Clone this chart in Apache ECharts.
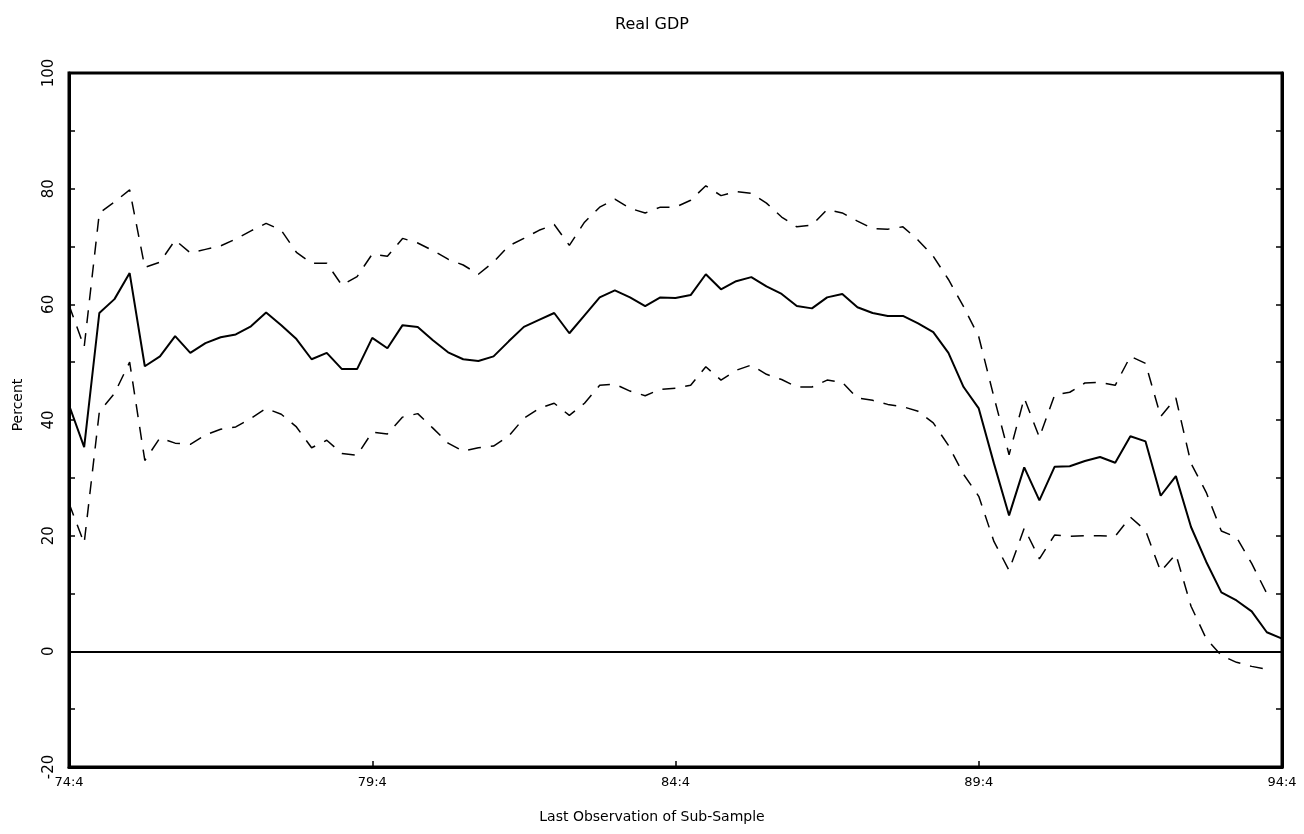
<!DOCTYPE html>
<html>
<head>
<meta charset="utf-8">
<title>Real GDP</title>
<script src="https://cdn.jsdelivr.net/npm/echarts@6/dist/echarts.min.js"></script>
<style>
  html, body { margin: 0; padding: 0; background: #fff; }
  #chart { width: 1304px; height: 834px; }
</style>
</head>
<body>
<div id="chart"></div>
<script>
// quarters 74:4 .. 94:4
const quarters = []
for (let y = 74, q = 4; y < 94 || (y === 94 && q <= 4); ) {
  quarters.push(y + ':' + q)
  q++
  if (q > 4) { q = 1; y++ }
}
const tickLabels = ['74:4', '79:4', '84:4', '89:4', '94:4']

// point estimate (solid)
const estimate = [
  42.6, 35.3, 58.5, 60.9, 65.4, 49.3, 51.0, 54.5, 51.6, 53.3,
  54.3, 54.8, 56.2, 58.6, 56.4, 54.0, 50.5, 51.6, 48.8, 48.8,
  54.2, 52.4, 56.4, 56.1, 53.8, 51.7, 50.5, 50.2, 51.0, 53.6,
  56.1, 57.3, 58.5, 55.0, 58.1, 61.2, 62.4, 61.2, 59.7, 61.2,
  61.1, 61.6, 65.2, 62.6, 64.0, 64.7, 63.1, 61.8, 59.7, 59.3,
  61.2, 61.8, 59.5, 58.5, 58.0, 58.0, 56.7, 55.2, 51.6, 45.7,
  42.0, 32.5, 23.5, 31.8, 26.1, 31.9, 32.0, 32.9, 33.6, 32.6,
  37.2, 36.3, 26.9, 30.3, 21.5, 15.5, 10.2, 8.8, 6.9, 3.3,
  2.2
]

// upper band (dashed)
const upper = [
  59.9, 52.6, 75.8, 77.7, 79.8, 66.4, 67.3, 71.1, 68.9, 69.5,
  70.1, 71.3, 72.7, 74.0, 72.8, 69.0, 67.1, 67.1, 63.3, 64.8,
  68.7, 68.3, 71.4, 70.6, 69.3, 67.8, 66.8, 65.2, 67.3, 70.1,
  71.4, 72.8, 73.8, 70.2, 74.2, 76.8, 78.2, 76.6, 75.8, 76.8,
  76.8, 78.0, 80.5, 78.8, 79.5, 79.2, 77.5, 75.1, 73.4, 73.7,
  76.4, 75.8, 74.4, 73.1, 73.0, 73.4, 71.1, 68.3, 64.3, 59.6,
  54.4, 44.0, 34.0, 43.8, 37.0, 44.3, 44.8, 46.4, 46.5, 46.0,
  51.0, 49.8, 40.6, 43.8, 32.5, 27.5, 20.8, 19.7, 15.2, 10.0,
  null
]

// lower band (dashed)
const lower = [
  25.6, 18.7, 41.4, 44.6, 50.0, 33.0, 36.9, 36.0, 35.8, 37.4,
  38.4, 38.8, 40.3, 42.0, 41.0, 38.8, 35.2, 36.5, 34.2, 33.9,
  37.9, 37.6, 40.5, 41.1, 38.6, 36.0, 34.6, 35.2, 35.5, 37.2,
  40.3, 42.0, 42.9, 40.8, 42.9, 46.0, 46.2, 45.0, 44.2, 45.3,
  45.5, 46.0, 49.2, 46.9, 48.6, 49.5, 47.9, 47.0, 45.7, 45.7,
  46.9, 46.5, 43.8, 43.4, 42.7, 42.3, 41.5, 39.5, 35.6, 30.6,
  26.8, 19.0, 14.0, 21.3, 16.0, 20.1, 19.9, 20.0, 20.0, 19.9,
  23.2, 20.9, 13.8, 16.8, 7.8, 2.2, -0.7, -1.9, -2.6, -3.1,
  null
]

const FONT = 'DejaVu Sans'
const chart = echarts.init(document.getElementById('chart'), null, { renderer: 'canvas' })

const yBase = {
  type: 'value', min: -20, max: 100, interval: 10,
  splitLine: { show: false },
  axisLine: { show: true, onZero: false, lineStyle: { color: '#000', width: 3 } },
  axisTick: { show: true, inside: true, length: 6, lineStyle: { color: '#000', width: 1.5 } }
}

const dashed = { color: '#000', width: 1.5, type: [13, 10] }
const nameStyle = { fontFamily: FONT, fontSize: 14, fill: '#000' }

chart.setOption({
  animation: false,
  backgroundColor: '#fff',
  title: {
    text: 'Real GDP', left: 'center', top: 12,
    textStyle: { fontFamily: FONT, fontSize: 16, fontWeight: 'normal', color: '#000' }
  },
  graphic: [
    {
      type: 'text', x: 652, y: 817,
      style: Object.assign({ text: 'Last Observation of Sub-Sample', align: 'center', verticalAlign: 'middle' }, nameStyle)
    },
    {
      type: 'text', x: 18, y: 405, rotation: Math.PI / 2,
      style: Object.assign({ text: 'Percent', align: 'center', verticalAlign: 'middle' }, nameStyle)
    }
  ],
  grid: {
    left: 69, right: 22, top: 73, bottom: 67,
    show: true, borderColor: '#000', borderWidth: 3, backgroundColor: 'transparent'
  },
  xAxis: {
    type: 'category', data: quarters, boundaryGap: false,
    axisLine: { show: true, onZero: false, lineStyle: { color: '#000', width: 3 } },
    axisTick: {
      show: true, inside: true, length: 6,
      interval: i => tickLabels.includes(quarters[i]),
      lineStyle: { color: '#000', width: 1.5 }
    },
    axisLabel: {
      interval: i => tickLabels.includes(quarters[i]),
      showMinLabel: true, showMaxLabel: true,
      margin: 9, fontFamily: FONT, fontSize: 13, color: '#000'
    }
  },
  yAxis: [
    Object.assign({}, yBase, {
      position: 'left',
      axisLabel: {
        rotate: 90, margin: 12, fontFamily: FONT, fontSize: 15, color: '#000',
        formatter: v => (v % 20 === 0 ? String(v) : '')
      }
    }),
    Object.assign({}, yBase, {
      position: 'right',
      axisLabel: { show: false }
    })
  ],
  series: [
    {
      name: 'estimate', type: 'line', data: estimate,
      symbol: 'none', lineStyle: { color: '#000', width: 2 },
      markLine: {
        silent: true, symbol: 'none', label: { show: false },
        lineStyle: { color: '#000', width: 2, type: 'solid' },
        data: [{ yAxis: 0 }]
      }
    },
    {
      name: 'upper', type: 'line', data: upper,
      symbol: 'none', lineStyle: dashed
    },
    {
      name: 'lower', type: 'line', data: lower,
      symbol: 'none', lineStyle: dashed
    }
  ]
})
</script>
</body>
</html>
